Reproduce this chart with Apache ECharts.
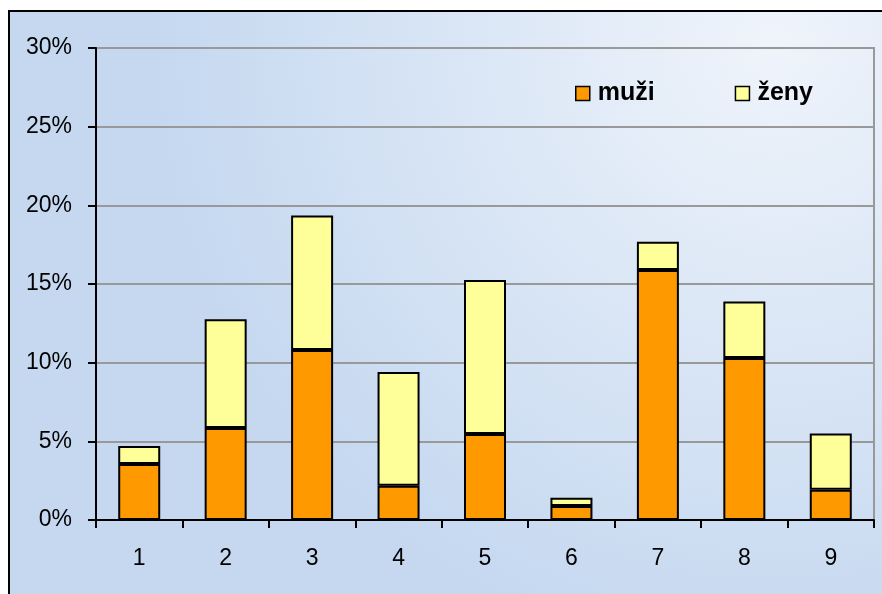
<!DOCTYPE html>
<html><head><meta charset="utf-8">
<script src="https://cdn.jsdelivr.net/npm/echarts@6/dist/echarts.min.js"></script>
<style>html,body{margin:0;padding:0;background:#fff}#c{width:882px;height:594px}</style>
</head><body><div id="c"></div>
<script>
const categories = ['1','2','3','4','5','6','7','8','9'];
const muzi = [3.56, 5.85, 10.8, 2.18, 5.47, 0.89, 15.89, 10.3, 1.93];
const zeny = [1.14, 6.91, 8.55, 7.23, 9.79, 0.53, 1.80, 3.58, 3.56];
const yTicks = [0, 5, 10, 15, 20, 25, 30];

const chart = echarts.init(document.getElementById('c'));
const font = 'Liberation Sans, Arial, sans-serif';
chart.setOption({
  animation: false,
  backgroundColor: '#fff',
  graphic: [{
    type: 'rect', z: -10, silent: true,
    shape: {x: 9, y: 11, width: 900, height: 620},
    style: {
      fill: new echarts.graphic.RadialGradient(0.85, 0.05, 1.0, [
        {offset: 0, color: '#eff4fb'},
        {offset: 1, color: '#c5d8f0'}
      ]),
      stroke: '#000', lineWidth: 2
    }
  }],
  legend: {
    left: 570, top: 76,
    itemWidth: 14, itemHeight: 14, itemGap: 80,
    icon: 'rect',
    textStyle: {fontFamily: font, fontWeight: 'bold', fontSize: 25, color: '#000', padding: [0,0,0,3]},
    data: [
      {name: 'muži', itemStyle: {color: '#ff9900', borderColor: '#000', borderWidth: 1.5}},
      {name: 'ženy', itemStyle: {color: '#ffff99', borderColor: '#000', borderWidth: 1.5}}
    ]
  },
  grid: {left: 96, top: 48, right: 8, bottom: 74, show: true, borderColor: '#999', borderWidth: 2, backgroundColor: 'transparent'},
  xAxis: {
    type: 'category', data: categories,
    axisLine: {lineStyle: {color: '#000', width: 2}},
    axisTick: {show: true, length: 8, lineStyle: {color: '#000', width: 2}},
    axisLabel: {color: '#000', fontFamily: font, fontSize: 23, margin: 27}
  },
  yAxis: {
    type: 'value', min: 0, max: 30, interval: 5,
    axisLine: {show: true, lineStyle: {color: '#000', width: 2}},
    axisTick: {show: true, length: 8, lineStyle: {color: '#000', width: 2}},
    axisLabel: {color: '#000', fontFamily: font, fontSize: 23, margin: 24,
      formatter: v => yTicks.includes(v) ? v + '%' : ''},
    splitLine: {show: true, lineStyle: {color: '#999', width: 2}}
  },
  series: [
    {name: 'muži', type: 'bar', stack: 's', data: muzi, barWidth: 42,
      itemStyle: {color: '#ff9900', borderColor: '#000', borderWidth: 2}},
    {name: 'ženy', type: 'bar', stack: 's', data: zeny, barWidth: 42,
      itemStyle: {color: '#ffff99', borderColor: '#000', borderWidth: 2}}
  ]
});
</script></body></html>
